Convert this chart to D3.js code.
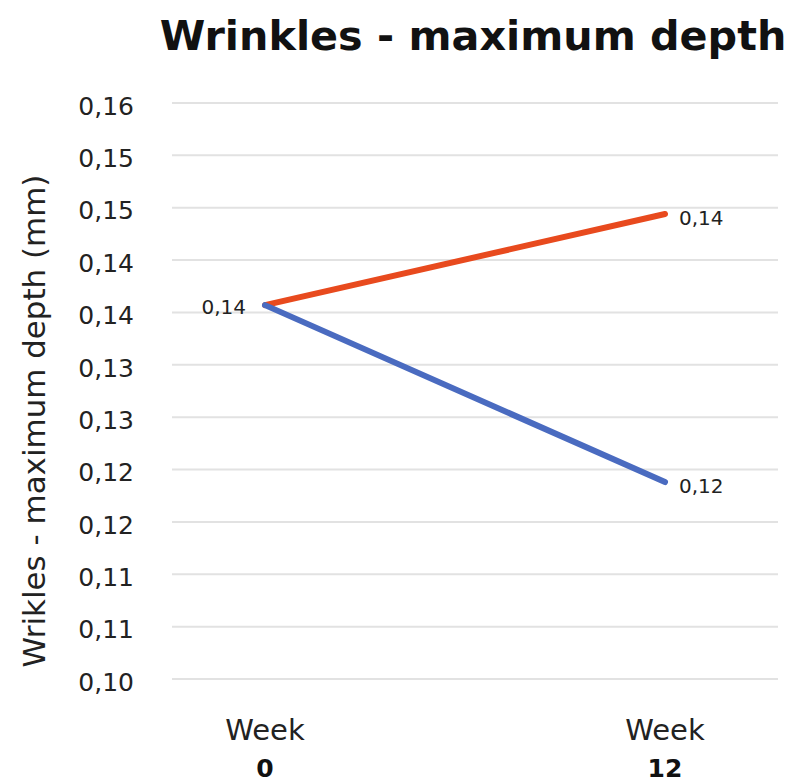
<!DOCTYPE html>
<html>
<head>
<meta charset="utf-8">
<script src="https://cdn.jsdelivr.net/npm/d3@7"></script>
<style>
  html, body { margin: 0; padding: 0; background: #fff; }
  svg { display: block; font-family: "DejaVu Sans", "Open Sans", sans-serif; }
</style>
</head>
<body>
<div id="chart"></div>
<script>
// data
const weeks = ["0", "12"];
const redValues = [0.1357, 0.1444];
const blueValues = [0.1357, 0.1188];
const yTicks = [0.100, 0.105, 0.110, 0.115, 0.120, 0.125, 0.130, 0.135, 0.140, 0.145, 0.150, 0.155];
const title = "Wrinkles - maximum depth";
const yTitle = "Wrikles - maximum depth (mm)";

const width = 793, height = 783;
const gridLeft = 172, gridRight = 778;
const plotTop = 103, plotBottom = 679;

// comma decimal, rounding half up like the source
const fmt = (v) => (Math.round(v * 100 + 1e-6) / 100).toFixed(2).replace(".", ",");

// shrink/grow a text to a target width
function fitWidth(sel, base, target) {
  const w = sel.node().getComputedTextLength();
  sel.attr("font-size", base * target / w);
}

const svg = d3.select("#chart").append("svg")
  .attr("width", width)
  .attr("height", height);

const x = d3.scalePoint().domain(weeks).range([265, 665]);
const y = d3.scaleLinear().domain([0.1, 0.155]).range([plotBottom, plotTop]);

// title
const t = svg.append("text")
  .attr("x", 473)
  .attr("y", 50)
  .attr("text-anchor", "middle")
  .attr("font-weight", "bold")
  .attr("font-size", 40)
  .attr("fill", "#111")
  .text(title);
fitWidth(t, 40, 627);

// grid lines + y labels
const yAxis = svg.append("g").attr("class", "y-axis");
yAxis.selectAll("line")
  .data(yTicks)
  .join("line")
  .attr("x1", gridLeft)
  .attr("x2", gridRight)
  .attr("y1", (d) => y(d))
  .attr("y2", (d) => y(d))
  .attr("stroke", "#e2e2e2")
  .attr("stroke-width", 2);

yAxis.selectAll("text")
  .data(yTicks)
  .join("text")
  .attr("x", 134)
  .attr("y", (d) => y(d) + 3)
  .attr("dy", "0.35em")
  .attr("text-anchor", "end")
  .attr("font-size", 25)
  .attr("fill", "#222")
  .text(fmt);

// y title
const yt = svg.append("text")
  .attr("transform", "translate(45,421) rotate(-90)")
  .attr("text-anchor", "middle")
  .attr("font-size", 30)
  .attr("fill", "#222")
  .text(yTitle);
fitWidth(yt, 30, 493);

// x labels
const xLab = svg.append("g").selectAll("g")
  .data(weeks)
  .join("g")
  .attr("transform", (d) => `translate(${x(d)},0)`);
xLab.append("text")
  .attr("y", 740)
  .attr("text-anchor", "middle")
  .attr("font-size", 29)
  .attr("fill", "#222")
  .text("Week");
xLab.append("text")
  .attr("y", 777)
  .attr("text-anchor", "middle")
  .attr("font-size", 25)
  .attr("font-weight", "bold")
  .attr("fill", "#111")
  .text((d) => d);

// lines
const line = d3.line()
  .x((d, i) => x(weeks[i]))
  .y((d) => y(d));

const series = [
  { values: redValues, color: "#E84A1E" },
  { values: blueValues, color: "#4A6BC0" }
];

svg.append("g").selectAll("path")
  .data(series)
  .join("path")
  .attr("d", (d) => line(d.values))
  .attr("fill", "none")
  .attr("stroke", (d) => d.color)
  .attr("stroke-width", 6)
  .attr("stroke-linecap", "round");

// data labels
svg.append("text")
  .attr("x", x(weeks[0]) - 19)
  .attr("y", y(redValues[0]) + 2)
  .attr("dy", "0.35em")
  .attr("text-anchor", "end")
  .attr("font-size", 20)
  .attr("fill", "#222")
  .text(fmt(redValues[0]));

series.forEach((s) => {
  svg.append("text")
    .attr("x", x(weeks[1]) + 14)
    .attr("y", y(s.values[1]) + 4)
    .attr("dy", "0.35em")
    .attr("font-size", 20)
    .attr("fill", "#222")
    .text(fmt(s.values[1]));
});
</script>
</body>
</html>
